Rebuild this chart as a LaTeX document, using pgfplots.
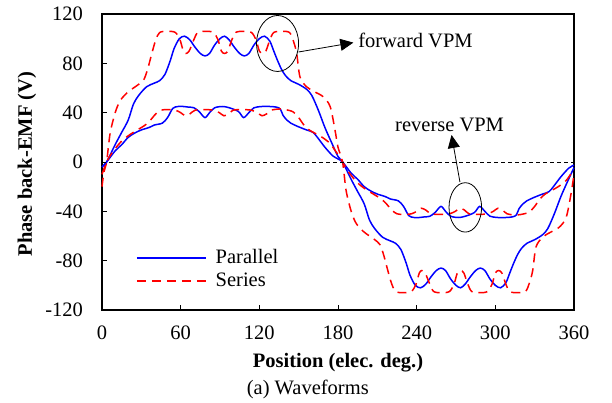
\documentclass[border=0pt]{standalone}
\usepackage{fontspec}
\setmainfont{Liberation Serif}
\usepackage{pgfplots}
\pgfplotsset{compat=1.18}
\usetikzlibrary{arrows.meta}

\definecolor{pblue}{RGB}{0,0,255}
\definecolor{sred}{RGB}{255,0,0}

\begin{document}
\fontsize{20.5bp}{24bp}\selectfont
\begin{tikzpicture}
\useasboundingbox (-102bp,-93bp) rectangle (510bp,310bp);
\begin{axis}[
    scale only axis,
    width=472bp, height=296bp,
    xmin=0, xmax=360, ymin=-120, ymax=120,
    xtick={0,60,...,360}, ytick={-120,-80,...,120},
    tick align=inside, xtick pos=left, ytick pos=left,
    major tick length=5bp,
    tick style={black, line width=0.9bp},
    axis line style={line width=1.3bp},
    /pgf/number format/assume math mode=true,
    ticklabel style={font=\fontsize{20.5bp}{24bp}\selectfont},
    xticklabel style={yshift=-9bp},
    yticklabel style={xshift=-12bp},
    xlabel={\bfseries Position (elec. deg.)},
    ylabel={\bfseries Phase back-EMF (V)},
    every axis x label/.style={at={(axis description cs:0.5,-0.179)}, anchor=center},
    every axis y label/.style={at={(axis description cs:-0.159,0.493)}, anchor=center, rotate=90},
    label style={font=\fontsize{20.5bp}{24bp}\selectfont},
    clip=false,
    legend cell align=left,
    legend image code/.code={\draw[#1] plot coordinates {(0bp,0bp) (34.5bp,0bp) (69bp,0bp)};},
    legend style={draw=none, fill=none, at={(axis description cs:0.072,0.213)}, anchor=north west,
        font=\fontsize{20.5bp}{24bp}\selectfont, inner sep=0pt, row sep=2bp,
        /tikz/every odd column/.append style={column sep=7bp}},
]
\addlegendimage{color=pblue, line width=1.5bp, solid}
\addlegendentry{Parallel}
\addlegendimage{color=sred, line width=1.5bp, dash pattern=on 9bp off 6bp}
\addlegendentry{Series}
% parallel, forward VPM
\addplot[color=pblue, line width=1.5bp, smooth, forget plot] coordinates {
(0,-4) (3.5,0) (10,14) (15,24) (20,34) (24,47) (28,54) (34,61) (40,64) (44,66)
(48,71) (52,82) (55,92) (59,100) (63,102) (67,99) (71,93) (75,88) (78.5,86) (82,88)
(86,95) (90,100) (93.5,102) (97,99) (101,93) (105,88) (108.5,86) (112,88) (116,95) (120,100)
(124,102) (128,98) (131,90) (134,82) (137,75) (140,70) (144,66) (150,63) (156,59) (160,54)
(165,42) (170,28) (175,16) (180,4.5) (183.5,0)
(190,-14) (195,-24) (200,-34) (204,-47) (208,-54) (214,-61) (220,-64) (224,-66)
(228,-71) (232,-82) (235,-92) (239,-100) (243,-102) (247,-99) (251,-93) (255,-88) (258.5,-86) (262,-88)
(266,-95) (270,-100) (273.5,-102) (277,-99) (281,-93) (285,-88) (288.5,-86) (292,-88) (296,-95) (300,-100)
(304,-102) (308,-98) (311,-90) (314,-82) (317,-75) (320,-70) (324,-66) (330,-63) (336,-59) (340,-54)
(345,-42) (350,-28) (355,-16) (360,-4.5)
};
% series, forward VPM
\addplot[color=sred, line width=1.5bp, smooth, dash pattern=on 9bp off 6bp, forget plot] coordinates {
(0,-20) (1.5,-8) (3.5,0) (6,22) (8.5,34) (11,43) (14,50) (19,56) (24,60) (28,63)
(32,67) (35,76) (38,88) (41,99) (44,105) (50,106) (56,105) (59.5,99) (62,90) (64,88)
(66.5,90) (70,99) (73,105) (79,106) (85,105) (88.5,99) (91,90) (93.5,88) (96,90) (99,99)
(102,105) (108,106) (114,105) (117.5,99) (120,90) (122.5,88) (125,90) (128,99) (131,105) (137,106)
(143,105) (146,98) (148.5,88) (151,69) (156,61) (162,57) (168.6,53) (174,45) (177.7,26) (180,12)
(183.5,0)
(186,-22) (188.5,-34) (191,-43) (194,-50) (199,-56) (204,-60) (208,-63)
(212,-67) (215,-76) (218,-88) (221,-99) (224,-105) (230,-106) (236,-105) (239.5,-99) (242,-90) (244,-88)
(246.5,-90) (250,-99) (253,-105) (259,-106) (265,-105) (268.5,-99) (271,-90) (273.5,-88) (276,-90) (279,-99)
(282,-105) (288,-106) (294,-105) (297.5,-99) (300,-90) (302.5,-88) (305,-90) (308,-99) (311,-105) (317,-106)
(323,-105) (326,-98) (328.5,-88) (331,-69) (336,-61) (342,-57) (348.6,-53) (354,-45) (357.7,-26) (360,-10)
};
% parallel, reverse VPM
\addplot[color=pblue, line width=1.5bp, smooth, forget plot] coordinates {
(0,-4) (3.5,0) (10,9) (15,14) (20,20) (25,23.5) (30,26) (36,28) (40,30) (46,31.5)
(50,36) (54,43.5) (58,45) (62,45) (66,44.5) (70,44) (74,41) (78.5,36) (82,40) (86,44)
(92,45) (97,44) (104,41) (108,36) (112,40) (116,44) (122,45) (128,45) (133,44.5) (136,43)
(138,38) (141,34) (144,31.5) (150,28.5) (156,26) (161,24) (165,19) (170,12) (176,5) (180,2.5)
(183.5,0)
(190,-9) (195,-14) (200,-20) (205,-23.5) (210,-26) (216,-28) (220,-30) (226,-31.5)
(230,-36) (234,-43.5) (238,-45) (242,-45) (246,-44.5) (250,-44) (254,-41) (258.5,-36) (262,-40) (266,-44)
(272,-45) (277,-44) (284,-41) (288,-36) (292,-40) (296,-44) (302,-45) (308,-45) (313,-44.5) (316,-43)
(318,-38) (321,-34) (324,-31.5) (330,-28.5) (336,-26) (341,-24) (345,-19) (350,-12) (356,-5) (360,-2.5)
};
% series, reverse VPM
\addplot[color=sred, line width=1.5bp, smooth, dash pattern=on 9bp off 6bp, forget plot] coordinates {
(0,-10) (3.5,0) (8,8) (15,17) (21,22) (27,26) (33,30) (37,34) (41,39) (45,42)
(50,42.5) (56,42) (60,40) (63.5,37.5) (67,39) (71,42) (78,42.5) (85,42) (89.5,40) (93,37.5)
(96.5,39) (100,42) (107,42.5) (114,42) (118.5,40) (122,37.5) (125.5,39) (129,42) (136,43) (142,42)
(146,40.5) (150,36) (154,30) (158,26) (163,23) (168,20) (174,15) (178,9) (180,6) (183.5,0)
(188,-8) (195,-17) (201,-22) (207,-26) (213,-30) (217,-34) (221,-39) (225,-42)
(230,-42.5) (236,-42) (240,-40) (243.5,-37.5) (247,-39) (251,-42) (258,-42.5) (265,-42) (269.5,-40) (273,-37.5)
(276.5,-39) (280,-42) (287,-42.5) (294,-42) (298.5,-40) (302,-37.5) (305.5,-39) (309,-42) (316,-43) (322,-42)
(326,-40.5) (330,-36) (334,-30) (338,-26) (343,-23) (348,-20) (354,-15) (358,-9) (360,-6)
};
% zero line
\addplot[black, line width=0.8bp, dash pattern=on 4bp off 3bp, forget plot] coordinates {(0,0) (360,0)};

% annotations
\draw[black, line width=0.8bp] (axis cs:133.9,96.1) ellipse [x radius=21bp, y radius=28bp];
\draw[black, line width=0.8bp, -{Triangle[length=13bp,width=12bp]}] (axis cs:149.9,89.2) -- (axis cs:191.7,96.8);
\node[anchor=base west, inner sep=0pt] at (axis cs:195.3,92.5) {forward VPM};
\draw[black, line width=0.8bp] (axis cs:277.1,-36.8) ellipse [x radius=16.3bp, y radius=24.7bp];
\draw[black, line width=0.8bp, -{Triangle[length=13bp,width=12bp]}] (axis cs:273,-16.2) -- (axis cs:266.6,21.9);
\node[anchor=base west, inner sep=0pt] at (axis cs:223.5,25.1) {reverse VPM};
\node[anchor=center, inner sep=0pt] at (axis description cs:0.436,-0.270) {(a) Waveforms};
\end{axis}
\end{tikzpicture}
\end{document}
